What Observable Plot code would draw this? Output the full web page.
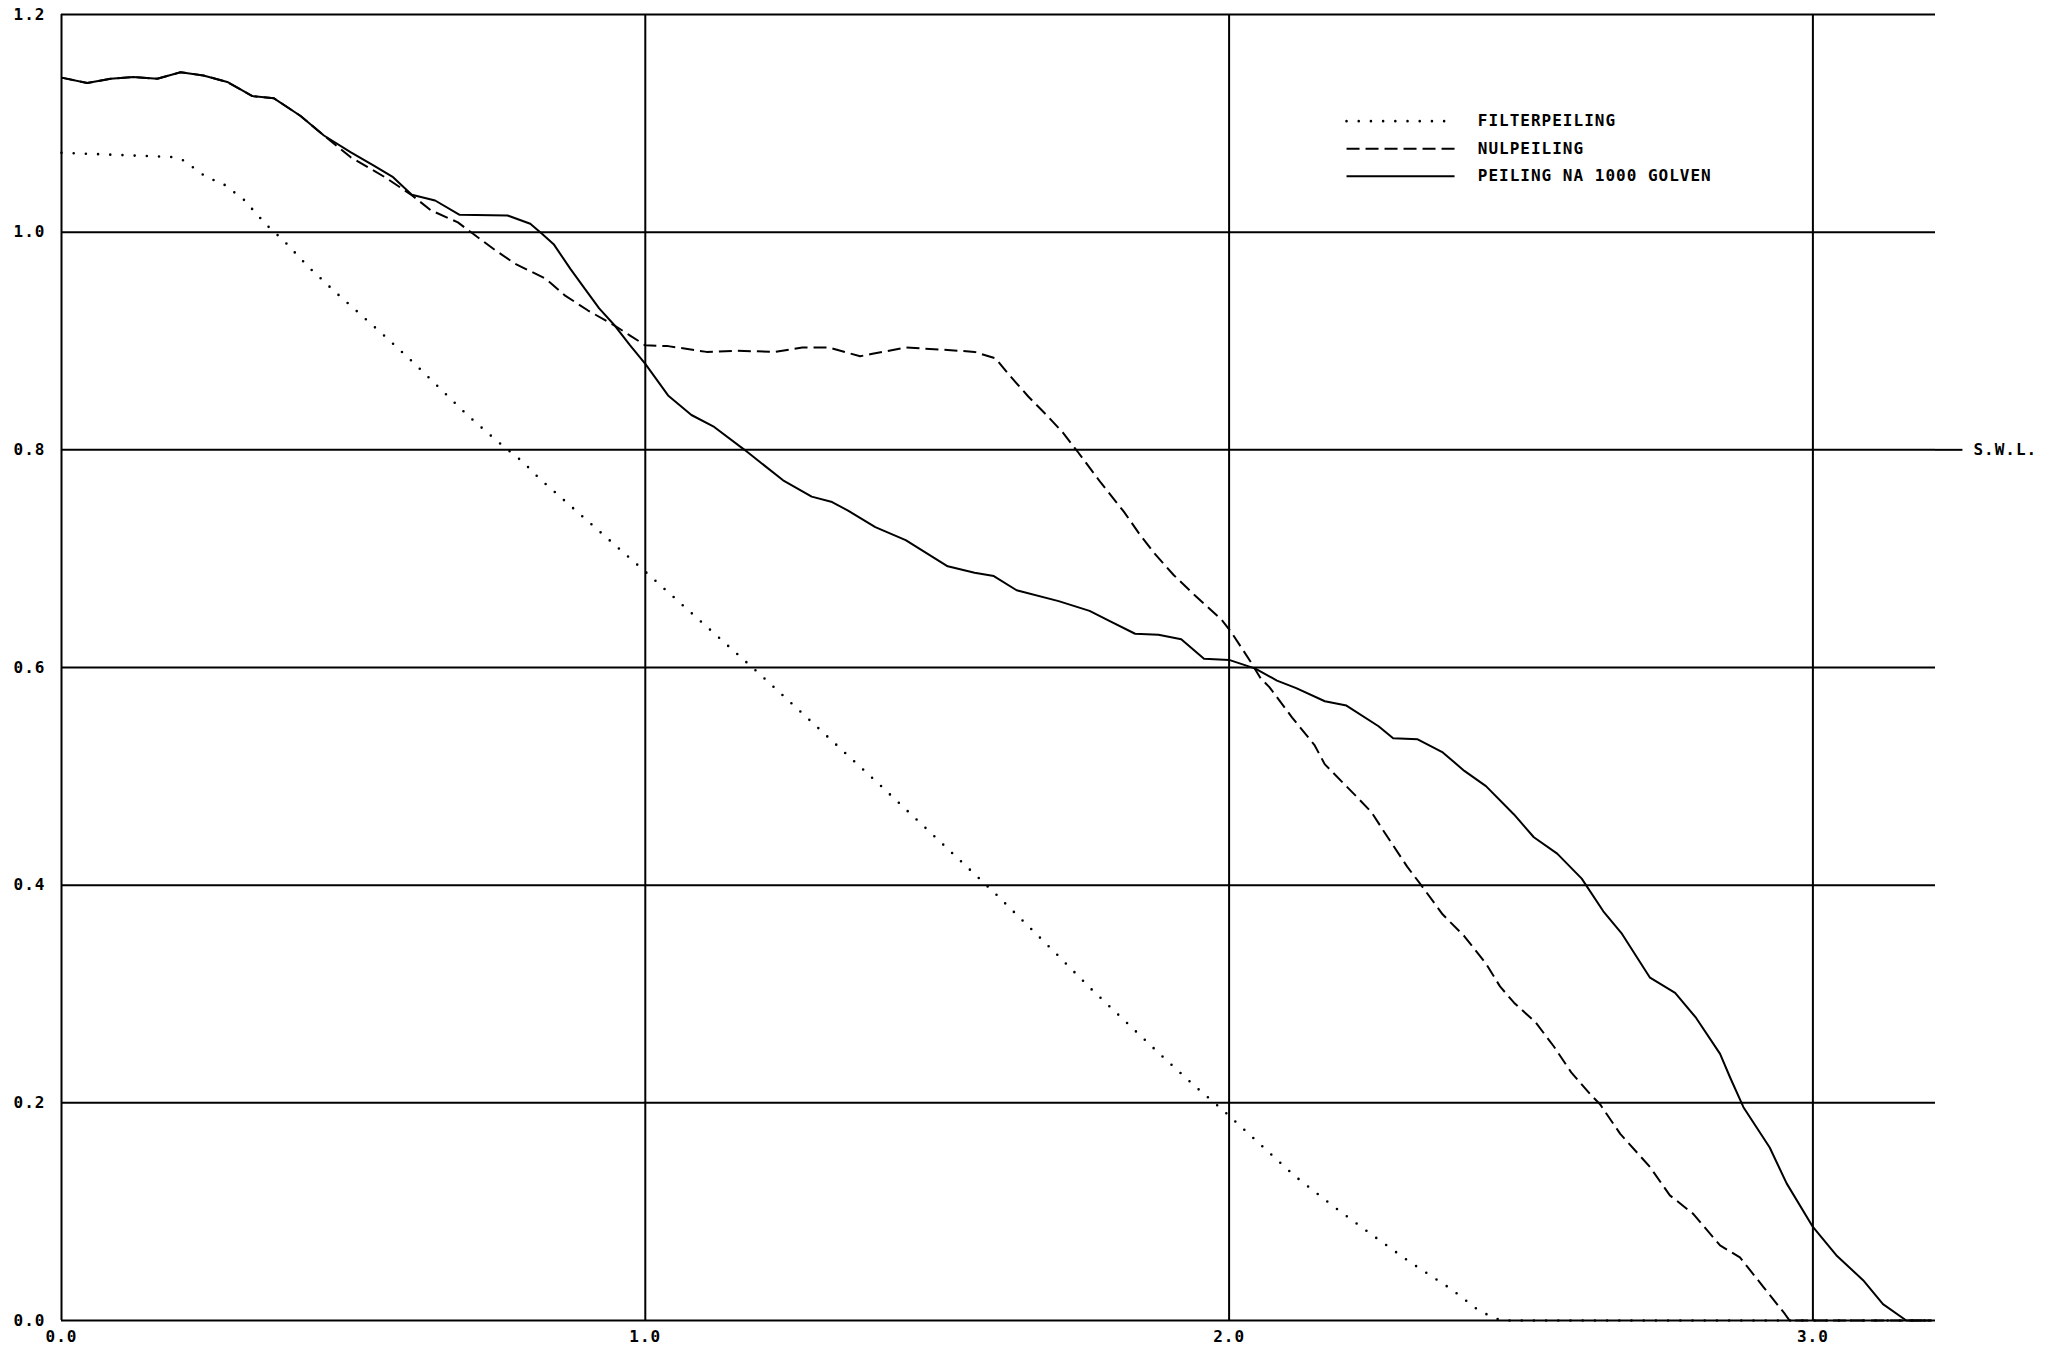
<!DOCTYPE html>
<html>
<head>
<meta charset="utf-8">
<script src="https://cdn.jsdelivr.net/npm/d3@7"></script>
<script src="https://cdn.jsdelivr.net/npm/@observablehq/plot@0.6"></script>
<style>
html, body { margin: 0; padding: 0; background: #fff; }
#chart svg text { letter-spacing: 1px; }
</style>
</head>
<body>
<div id="chart"></div>
<script>
// ---- data ----
const seriesNames = ["FILTERPEILING", "NULPEILING", "PEILING NA 1000 GOLVEN"];

const filterX = [0, 0.19, 0.209, 0.247, 0.278, 0.312, 0.351, 0.381, 0.423, 0.469, 0.515, 0.561, 0.607, 0.651, 0.695, 0.744, 0.790, 0.820, 1.0, 1.2, 1.4, 1.6, 1.703, 1.761, 1.822, 1.881, 1.942, 1.989, 2.051, 2.112, 2.176, 2.244, 2.310, 2.380, 2.429, 2.466, 3.203];
const filterY = [1.073, 1.069, 1.066, 1.051, 1.044, 1.030, 1.0067, 0.992, 0.968, 0.945, 0.923, 0.901, 0.878, 0.855, 0.832, 0.809, 0.789, 0.773, 0.688, 0.592, 0.493, 0.392, 0.3375, 0.306, 0.275, 0.245, 0.215, 0.1935, 0.163, 0.133, 0.106, 0.079, 0.0536, 0.029, 0.0086, 0.0, 0.0];

const nulX = [0, 0.044, 0.084, 0.123, 0.164, 0.204, 0.243, 0.284, 0.327, 0.364, 0.409, 0.4495, 0.495, 0.554, 0.600, 0.633, 0.679, 0.705, 0.744, 0.777, 0.830, 0.862, 0.902, 0.948, 0.974, 1.0, 1.039, 1.105, 1.157, 1.223, 1.269, 1.315, 1.348, 1.368, 1.387, 1.446, 1.512, 1.564, 1.600, 1.623, 1.656, 1.689, 1.715, 1.741, 1.780, 1.820, 1.846, 1.872, 1.905, 1.938, 1.987, 2.003, 2.036, 2.054, 2.069, 2.108, 2.146, 2.164, 2.219, 2.244, 2.268, 2.305, 2.329, 2.366, 2.403, 2.440, 2.464, 2.488, 2.525, 2.556, 2.586, 2.620, 2.635, 2.670, 2.721, 2.755, 2.795, 2.841, 2.875, 2.915, 2.952, 2.960, 3.203];
const nulY = [1.142, 1.137, 1.141, 1.1426, 1.141, 1.147, 1.144, 1.138, 1.125, 1.123, 1.107, 1.0888, 1.069, 1.0505, 1.034, 1.020, 1.009, 0.9985, 0.983, 0.971, 0.957, 0.942, 0.928, 0.914, 0.905, 0.896, 0.8953, 0.890, 0.891, 0.890, 0.894, 0.894, 0.889, 0.886, 0.888, 0.894, 0.892, 0.890, 0.884, 0.869, 0.849, 0.831, 0.816, 0.798, 0.770, 0.743, 0.723, 0.705, 0.685, 0.668, 0.644, 0.633, 0.606, 0.590, 0.582, 0.554, 0.529, 0.511, 0.481, 0.467, 0.447, 0.417, 0.400, 0.373, 0.353, 0.328, 0.307, 0.292, 0.274, 0.252, 0.228, 0.207, 0.199, 0.1715, 0.141, 0.115, 0.098, 0.069, 0.058, 0.031, 0.006, 0.0, 0.0];

const golvenX = [0, 0.044, 0.084, 0.123, 0.164, 0.204, 0.243, 0.284, 0.327, 0.364, 0.409, 0.4495, 0.495, 0.535, 0.568, 0.600, 0.640, 0.682, 0.764, 0.803, 0.823, 0.843, 0.872, 0.895, 0.921, 0.948, 0.974, 1.0, 1.039, 1.079, 1.118, 1.170, 1.236, 1.285, 1.320, 1.348, 1.394, 1.446, 1.518, 1.564, 1.597, 1.636, 1.708, 1.761, 1.794, 1.839, 1.879, 1.918, 1.957, 2.0, 2.045, 2.082, 2.115, 2.164, 2.201, 2.256, 2.281, 2.323, 2.366, 2.403, 2.440, 2.488, 2.522, 2.562, 2.604, 2.641, 2.672, 2.721, 2.764, 2.800, 2.841, 2.858, 2.881, 2.926, 2.955, 3.0, 3.040, 3.086, 3.120, 3.160, 3.203];
const golvenY = [1.142, 1.137, 1.141, 1.1426, 1.141, 1.147, 1.144, 1.138, 1.125, 1.123, 1.107, 1.0888, 1.0735, 1.0612, 1.0505, 1.0343, 1.0291, 1.0159, 1.0153, 1.0077, 0.9985, 0.989, 0.966, 0.949, 0.930, 0.914, 0.896, 0.879, 0.850, 0.832, 0.821, 0.800, 0.772, 0.757, 0.752, 0.744, 0.729, 0.717, 0.693, 0.687, 0.684, 0.671, 0.661, 0.652, 0.643, 0.631, 0.630, 0.626, 0.608, 0.607, 0.599, 0.588, 0.581, 0.569, 0.565, 0.546, 0.535, 0.534, 0.522, 0.505, 0.491, 0.465, 0.444, 0.429, 0.406, 0.376, 0.356, 0.315, 0.301, 0.278, 0.245, 0.2235, 0.196, 0.159, 0.126, 0.086, 0.060, 0.037, 0.015, 0.0, 0.0];

const xTicks = [0, 1, 2, 3];
const xTickLabels = ["0.0", "1.0", "2.0", "3.0"];
const yTicks = [0, 0.2, 0.4, 0.6, 0.8, 1.0, 1.2];
const yTickLabels = ["0.0", "0.2", "0.4", "0.6", "0.8", "1.0", "1.2"];
const swlLevel = [0.8];
const swlLabel = ["S.W.L."];

// ---- styles ----
const lineStyles = [
  {strokeDasharray: "0 12.2", strokeWidth: 2.6, strokeLinecap: "round"},
  {strokeDasharray: "13 6", strokeWidth: 2, strokeLinecap: "butt"},
  {strokeDasharray: null, strokeWidth: 2, strokeLinecap: "butt"}
];

const toRows = (xs, ys) => xs.map((x, i) => ({x, y: ys[i]}));
const seriesRows = [toRows(filterX, filterY), toRows(nulX, nulY), toRows(golvenX, golvenY)];

const xMax = 3.21;
const legendX1 = 2.202, legendX2 = 2.387, legendTextX = 2.426;
const legendY0 = 1.102, legendStep = 0.02526;

const marks = [
  Plot.ruleY(yTicks, {stroke: "#000", strokeWidth: 2}),
  Plot.ruleX(xTicks, {stroke: "#000", strokeWidth: 2}),
  Plot.ruleY(swlLevel, {x1: xMax, x2: 3.257, stroke: "#000", strokeWidth: 2}),
  Plot.text(swlLabel, {x: 3.275, y: swlLevel[0], text: d => d, textAnchor: "start", fontSize: 16, fontWeight: "bold"})
];

seriesRows.forEach((rows, i) => {
  const st = lineStyles[i];
  marks.push(Plot.line(rows, {x: "x", y: "y", stroke: "#000", curve: "linear", strokeLinejoin: "round", ...st}));
  marks.push(Plot.ruleY([legendY0 - i * legendStep], {x1: legendX1, x2: legendX2, stroke: "#000", ...st}));
});
marks.push(Plot.text(seriesNames, {
  x: legendTextX,
  y: (d, i) => legendY0 - i * legendStep,
  text: d => d,
  textAnchor: "start",
  fontSize: 16,
  fontWeight: "bold"
}));

const chart = Plot.plot({
  width: 2052,
  height: 1350,
  marginLeft: 61,
  marginRight: 117,
  marginTop: 14,
  marginBottom: 30,
  style: {
    fontFamily: "'DejaVu Sans Mono', monospace",
    fontSize: "16px",
    fontWeight: "bold",
    color: "#000",
    background: "#fff"
  },
  x: {
    domain: [0, xMax],
    ticks: xTicks,
    tickSize: 0,
    tickPadding: 10,
    tickFormat: d => xTickLabels[xTicks.indexOf(d)],
    label: null
  },
  y: {
    domain: [0, 1.2],
    ticks: yTicks,
    tickSize: 0,
    tickPadding: 16,
    tickFormat: d => yTickLabels[yTicks.findIndex(t => Math.abs(t - d) < 1e-9)],
    label: null
  },
  marks
});
document.getElementById("chart").appendChild(chart);
</script>
</body>
</html>
